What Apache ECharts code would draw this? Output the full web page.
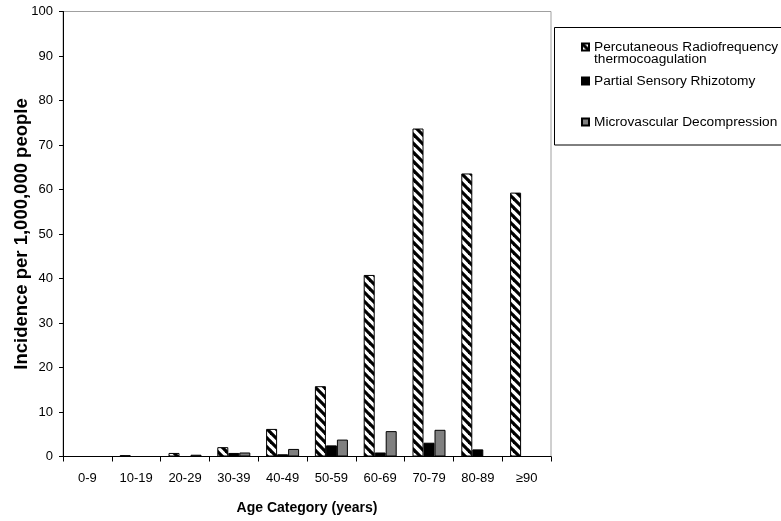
<!DOCTYPE html>
<html>
<head>
<meta charset="utf-8">
<script src="https://cdn.jsdelivr.net/npm/echarts@6/dist/echarts.min.js"></script>
<style>
html,body{margin:0;padding:0;background:#fff;}
#chart{width:781px;height:521px;}
</style>
</head>
<body>
<div id="chart"></div>
<script>
// ---- data ----
const categories = ['0-9', '10-19', '20-29', '30-39', '40-49', '50-59', '60-69', '70-79', '80-89', '≥90'];
const seriesNames = ['Percutaneous Radiofrequency thermocoagulation', 'Partial Sensory Rhizotomy', 'Microvascular Decompression'];
const prtValues = [0, 0.3, 0.8, 2.1, 6.2, 15.8, 40.8, 73.7, 63.6, 59.3];
const psrValues = [0, 0, 0, 0.8, 0.5, 2.5, 0.9, 3.1, 1.6, 0];
const mvdValues = [0, 0, 0.4, 0.9, 1.7, 3.8, 5.7, 6.0, 0, 0];
const yTicks = { min: 0, max: 100, interval: 10 };

const FONT = '"Liberation Sans", Arial, Helvetica, sans-serif';

// hatch pattern (diagonal "\" stripes)
function makeHatch() {
  const s = 9;
  const c = document.createElement('canvas');
  c.width = s; c.height = s;
  const ctx = c.getContext('2d');
  ctx.fillStyle = '#fff';
  ctx.fillRect(0, 0, s, s);
  ctx.strokeStyle = '#000';
  ctx.lineWidth = 3.2;
  for (let k = -1; k <= 1; k++) {
    ctx.beginPath();
    ctx.moveTo(k * s - 1, -1);
    ctx.lineTo(k * s + s + 1, s + 1);
    ctx.stroke();
  }
  return c;
}
const hatch = { image: makeHatch(), repeat: 'repeat' };

const chart = echarts.init(document.getElementById('chart'), null, { renderer: 'canvas' });

const legendText = { fontFamily: FONT, fontSize: 13.7, color: '#000', lineHeight: 12 };

const option = {
  backgroundColor: '#fff',
  animation: false,
  grid: {
    left: 63, top: 11.5, right: 230, bottom: 64.5,
    outerBoundsMode: 'none', containLabel: false,
    show: true, borderColor: '#a0a0a0', borderWidth: 1, backgroundColor: 'transparent'
  },
  xAxis: {
    type: 'category',
    data: categories,
    name: 'Age Category (years)',
    nameLocation: 'middle',
    nameGap: 45,
    nameMoveOverlap: false,
    nameTextStyle: { fontFamily: FONT, fontSize: 14, fontWeight: 'bold', color: '#000' },
    axisLine: { lineStyle: { color: '#000', width: 1 } },
    axisTick: { show: true, length: 5, interval: 0, lineStyle: { color: '#000' } },
    axisLabel: { interval: 0, margin: 15, fontFamily: FONT, fontSize: 13, color: '#000' },
    splitLine: { show: false }
  },
  yAxis: {
    type: 'value',
    min: yTicks.min, max: yTicks.max, interval: yTicks.interval,
    name: 'Incidence per 1,000,000 people',
    nameLocation: 'middle',
    nameGap: 32,
    nameMoveOverlap: false,
    nameTextStyle: { fontFamily: FONT, fontSize: 18.5, fontWeight: 'bold', color: '#000' },
    axisLine: { show: true, lineStyle: { color: '#000', width: 1 } },
    axisTick: { show: true, length: 4, lineStyle: { color: '#000' } },
    axisLabel: { margin: 10, fontFamily: FONT, fontSize: 13, color: '#000' },
    splitLine: { show: false }
  },
  legend: [
    {
      data: [seriesNames[0]], left: 581, top: 28, orient: 'vertical', padding: 0,
      itemWidth: 7, itemHeight: 7, icon: 'rect',
      formatter: () => '\nPercutaneous Radiofrequency\nthermocoagulation',
      textStyle: legendText
    },
    {
      data: [seriesNames[1]], left: 581, top: 74, orient: 'vertical', padding: 0,
      itemWidth: 7, itemHeight: 7, icon: 'rect', textStyle: legendText
    },
    {
      data: [seriesNames[2]], left: 581, top: 115, orient: 'vertical', padding: 0,
      itemWidth: 7, itemHeight: 7, icon: 'rect', textStyle: legendText
    }
  ],
  graphic: [
    {
      type: 'rect', silent: true, z: -1,
      shape: { x: 554.5, y: 27.5, width: 240, height: 117.5 },
      style: { fill: 'none', stroke: '#000', lineWidth: 1 }
    }
  ],
  series: [
    {
      name: seriesNames[0], type: 'bar', data: prtValues,
      barWidth: 11, barGap: '0%',
      itemStyle: { color: hatch, borderColor: '#000', borderWidth: 1 }
    },
    {
      name: seriesNames[1], type: 'bar', data: psrValues,
      barWidth: 11, barGap: '0%',
      itemStyle: { color: '#000', borderColor: '#000', borderWidth: 1 }
    },
    {
      name: seriesNames[2], type: 'bar', data: mvdValues,
      barWidth: 11, barGap: '0%',
      itemStyle: { color: '#808080', borderColor: '#000', borderWidth: 1 }
    }
  ]
};
chart.setOption(option);
</script>
</body>
</html>
